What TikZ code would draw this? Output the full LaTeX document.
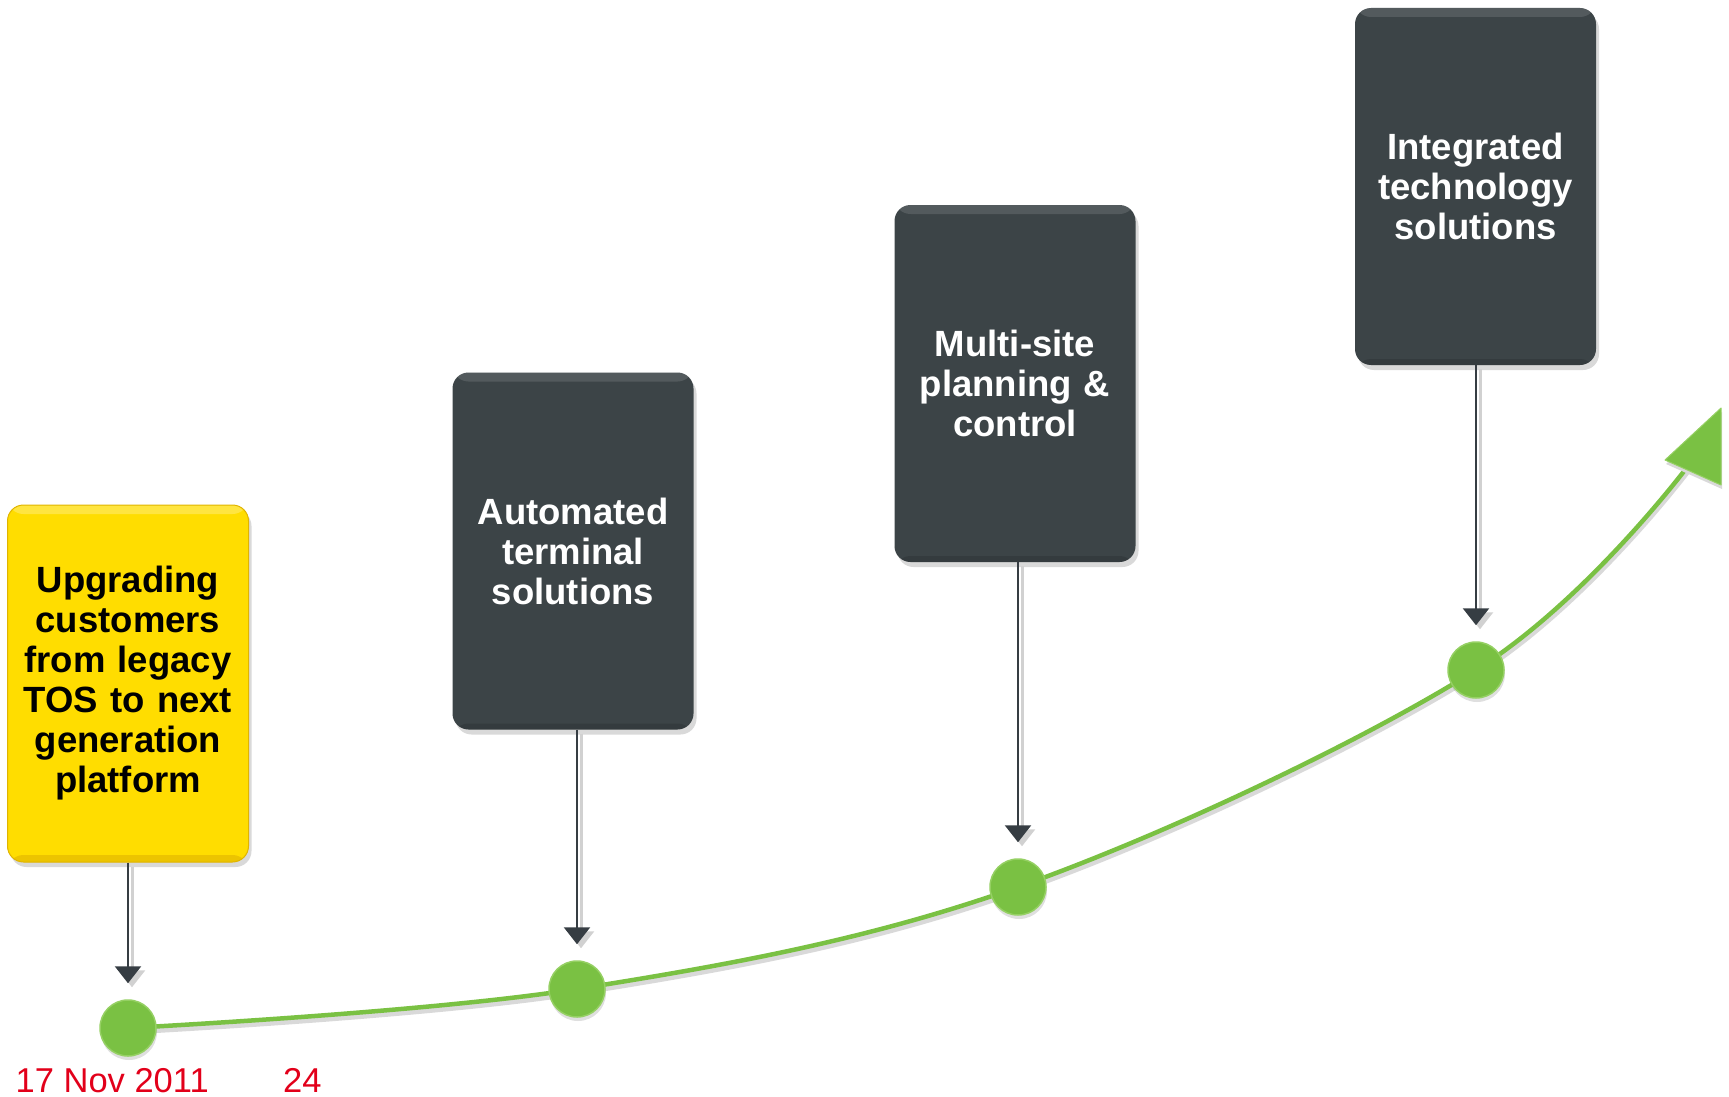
\documentclass[tikz,border=0pt]{standalone}
\usepackage{fontspec}
\setmainfont{Liberation Sans}
\usetikzlibrary{arrows.meta,shadows}
\definecolor{boxdark}{HTML}{3C4447}
\definecolor{boxyellow}{HTML}{FFDD00}
\definecolor{yedge}{HTML}{E0B400}
\definecolor{lgreen}{HTML}{7AC143}
\definecolor{lgreenedge}{HTML}{95D063}
\definecolor{conncol}{HTML}{363D43}
\definecolor{datered}{HTML}{E2001A}
\begin{document}
\begin{tikzpicture}[x=1pt,y=-1pt,
  stepbox/.style={rounded corners=16pt, minimum width=241pt, minimum height=357pt,
    inner sep=0pt, text width=236pt, align=center,
    font=\bfseries\fontsize{36.5}{40}\selectfont},
  darkbox/.style={stepbox, fill=boxdark, text=white,
    drop shadow={shadow xshift=3pt,shadow yshift=-5pt,opacity=0.3},
    path picture={\fill[white,opacity=0.12] (path picture bounding box.north west) rectangle ([yshift=-9pt]path picture bounding box.north east);
      \fill[black,opacity=0.12] (path picture bounding box.south west) rectangle ([yshift=6pt]path picture bounding box.south east);}},
  yellowbox/.style={stepbox, fill=boxyellow, draw=yedge, line width=1pt, text=black,
    drop shadow={shadow xshift=3pt,shadow yshift=-5pt,opacity=0.3},
    path picture={\fill[white,opacity=0.25] (path picture bounding box.north west) rectangle ([yshift=-9pt]path picture bounding box.north east);
      \fill[yedge,opacity=0.6] (path picture bounding box.south west) rectangle ([yshift=7pt]path picture bounding box.south east);}},
  dot/.style={circle, minimum size=56pt, inner sep=0pt, fill=lgreen, draw=lgreenedge, line width=1.5pt,
    drop shadow={shadow xshift=1pt,shadow yshift=-4pt,opacity=0.25}},
  conn/.style={draw=conncol, line width=2.5pt, -{Triangle[width=26pt,length=17pt]}, shorten >=16pt},
  connshadow/.style={draw=black!18, line width=3pt, -{Triangle[width=26pt,length=17pt]}, shorten >=16pt,
    transform canvas={xshift=4pt,yshift=-4pt}},
  curve/.style={draw=lgreen, line width=4.5pt},
  curveshadow/.style={draw=black!15, line width=5pt, transform canvas={xshift=1pt,yshift=-4pt}},
  datetext/.style={anchor=base west, inner sep=0pt, text=datered, font=\fontsize{34.5}{40}\selectfont}
]
\useasboundingbox (0,0) rectangle (1729,1097);

% boxes
\node[yellowbox] (b1) at (128,683.5) {Upgrading\\customers\\from legacy\\TOS to next\\generation\\platform};
\node[darkbox] (b2) at (573,551) {Automated\\terminal\\solutions};
\node[darkbox] (b3) at (1015,383.5) {Multi-site\\planning \&\\control};
\node[darkbox] (b4) at (1475.5,186.5) {Integrated\\technology\\solutions};

% timeline points
\coordinate (c1p) at (128,1028);
\coordinate (c2p) at (577,989);
\coordinate (c3p) at (1018,887);
\coordinate (c4p) at (1476,670);
\coordinate (tipend) at (1688,466);

% green curve with shadow
\draw[curveshadow] plot[smooth, tension=0.6] coordinates {(c1p) (c2p) (c3p) (c4p) (tipend)};
\draw[curve] plot[smooth, tension=0.6] coordinates {(c1p) (c2p) (c3p) (c4p) (tipend)};
\coordinate (ta) at (1665,460);
\coordinate (tb) at (1721,408);
\coordinate (tc) at (1721,485);
\fill[black!15, transform canvas={xshift=1pt,yshift=-4pt}] (ta) -- (tb) -- (tc) -- cycle;
\filldraw[fill=lgreen, draw=lgreenedge, line width=1pt, line join=round] (ta) -- (tb) -- (tc) -- cycle;

\node[dot] (c1) at (c1p) {};
\node[dot] (c2) at (c2p) {};
\node[dot] (c3) at (c3p) {};
\node[dot] (c4) at (c4p) {};

% connectors
\draw[connshadow] (b1.south -| c1) -- (c1.north);
\draw[connshadow] (b2.south -| c2) -- (c2.north);
\draw[connshadow] (b3.south -| c3) -- (c3.north);
\draw[connshadow] (b4.south -| c4) -- (c4.north);
\draw[conn] (b1.south -| c1) -- (c1.north);
\draw[conn] (b2.south -| c2) -- (c2.north);
\draw[conn] (b3.south -| c3) -- (c3.north);
\draw[conn] (b4.south -| c4) -- (c4.north);

% footer
\node[datetext] (date) at (15.5,1092) {17 Nov 2011};
\node[datetext] (pagenum) at (283,1092) {24};
\end{tikzpicture}
\end{document}
